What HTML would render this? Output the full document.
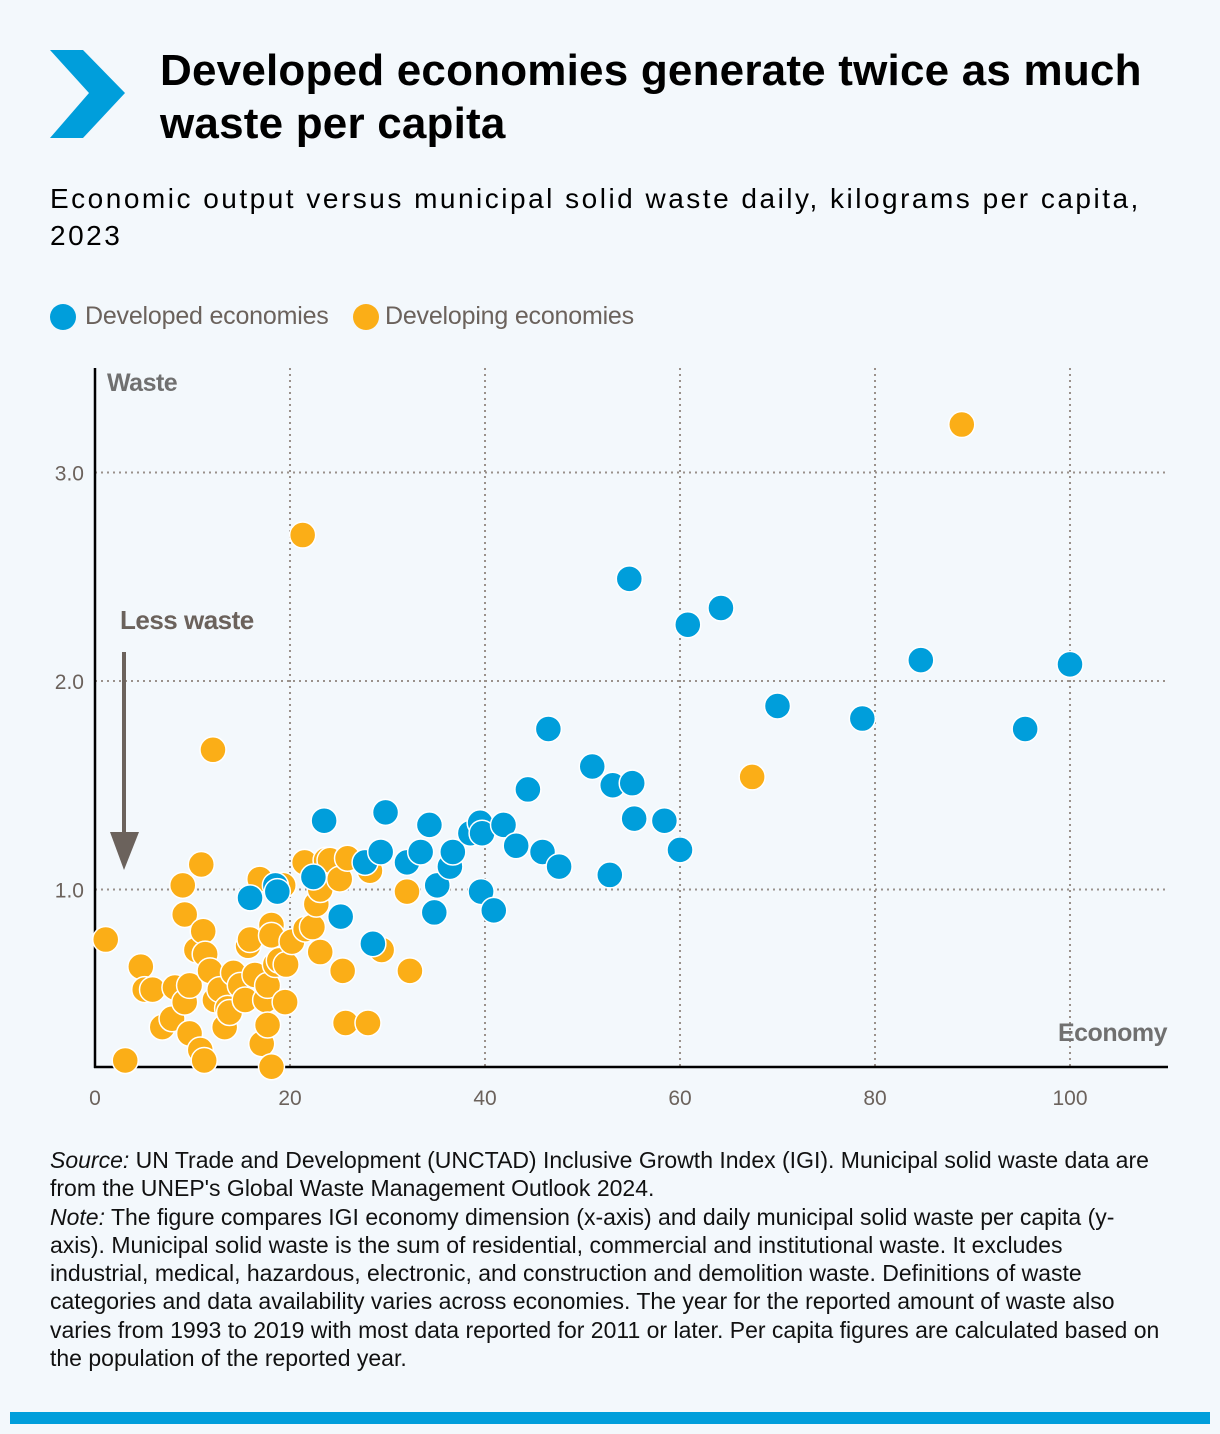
<!DOCTYPE html>
<html><head><meta charset="utf-8">
<style>
body{margin:0;background:#f3f8fc;width:1220px;height:1434px;position:relative;overflow:hidden;font-family:"Liberation Sans",sans-serif}
.t{position:absolute}
#title{left:160px;top:44px;font-size:44px;font-weight:bold;line-height:53px;color:#000;letter-spacing:0.2px;white-space:nowrap}
#sub{left:50px;top:180px;font-size:28px;line-height:37px;color:#000;letter-spacing:2.5px;white-space:nowrap}
#foot{left:50px;top:1146px;font-size:23px;line-height:28.3px;color:#111;width:1116px}
.leg{font-size:25px;color:#6b625c;letter-spacing:-0.2px;white-space:nowrap}
</style></head><body>
<svg class="t" style="left:0;top:0" width="150" height="150"><polygon points="50,50 83,50 125,93 83,138 50,138 89,93" fill="#009edb"/></svg>
<div id="title" class="t">Developed economies generate twice as much<br>waste per capita</div>
<div id="sub" class="t">Economic output versus municipal solid waste daily, kilograms per capita,<br>2023</div>
<div class="t" style="left:50px;top:300px;width:620px;height:36px">
 <div class="t" style="left:0;top:4px;width:26px;height:26px;border-radius:50%;background:#009edb"></div>
 <div class="t leg" style="left:35px;top:2px">Developed economies</div>
 <div class="t" style="left:303px;top:4px;width:26px;height:26px;border-radius:50%;background:#fbae17"></div>
 <div class="t leg" style="left:335px;top:2px">Developing economies</div>
</div>
<svg class="t" id="chart" style="left:0;top:0" width="1220" height="1140"></svg>
<div id="foot" class="t"><i>Source:</i> UN Trade and Development (UNCTAD) Inclusive Growth Index (IGI). Municipal solid waste data are from the UNEP's Global Waste Management Outlook 2024.<br><i>Note:</i> The figure compares IGI economy dimension (x-axis) and daily municipal solid waste per capita (y-axis). Municipal solid waste is the sum of residential, commercial and institutional waste. It excludes industrial, medical, hazardous, electronic, and construction and demolition waste. Definitions of waste categories and data availability varies across economies. The year for the reported amount of waste also varies from 1993 to 2019 with most data reported for 2011 or later. Per capita figures are calculated based on the population of the reported year.</div>
<div class="t" style="left:10px;top:1412px;width:1200px;height:12px;background:#009edb"></div>
<script>
const xTicks=[0,20,40,60,80,100];
const yTicks=[1.0,2.0,3.0];
const devX=[15.9,18.5,18.7,22.4,23.5,25.2,27.7,28.5,29.3,29.8,32.0,33.4,34.3,34.8,35.1,36.4,36.7,38.5,39.5,39.6,39.7,40.9,41.9,43.2,44.4,45.9,46.5,47.6,51.0,52.8,53.1,54.8,55.1,55.3,58.4,60.0,60.8,64.2,70.0,78.7,84.7,95.4,100];
const devY=[0.96,1.02,0.99,1.06,1.33,0.87,1.13,0.74,1.18,1.37,1.13,1.18,1.31,0.89,1.02,1.11,1.18,1.27,1.32,0.99,1.27,0.90,1.31,1.21,1.48,1.18,1.77,1.11,1.59,1.07,1.50,2.49,1.51,1.34,1.33,1.19,2.27,2.35,1.88,1.82,2.10,1.77,2.08];
const dvgX=[1.1,3.1,4.7,5.1,5.9,6.9,7.9,8.2,9.0,9.2,9.2,9.7,9.7,10.4,10.8,10.9,11.1,11.2,11.3,11.8,12.1,12.3,12.8,13.3,13.6,13.8,14.2,14.9,15.4,15.7,15.9,16.4,16.9,17.1,17.5,17.7,17.7,18.1,18.1,18.1,18.5,18.9,19.3,19.5,19.6,20.2,21.3,21.5,21.6,22.3,22.7,23.1,23.1,23.7,24.1,25.1,25.4,25.7,25.9,28.0,28.2,29.4,32.0,32.3,67.4,88.9];
const dvgY=[0.76,0.18,0.63,0.52,0.52,0.34,0.38,0.53,1.02,0.88,0.46,0.54,0.31,0.71,0.23,1.12,0.80,0.18,0.69,0.61,1.67,0.47,0.52,0.34,0.43,0.41,0.60,0.54,0.47,0.73,0.76,0.59,1.05,0.26,0.47,0.35,0.54,0.83,0.15,0.78,0.64,0.66,1.02,0.46,0.64,0.75,2.70,1.13,0.81,0.82,0.93,0.70,1.00,1.14,1.14,1.05,0.61,0.36,1.15,0.36,1.09,0.71,0.99,0.61,1.54,3.23];
const NS='http://www.w3.org/2000/svg';
const svg=document.getElementById('chart');
const sx=v=>95+v*9.75;
const sy=v=>1098-v*208.5;
function mk(tag,attrs,parent){const e=document.createElementNS(NS,tag);for(const k in attrs)e.setAttribute(k,attrs[k]);(parent||svg).appendChild(e);return e;}
xTicks.forEach(t=>{
  if(t>0){const g=mk('line',{x1:sx(t),x2:sx(t),y1:368,y2:1067,stroke:'#9a918b','stroke-width':2,'stroke-dasharray':'2 4'});
  
  }
  const l=mk('text',{x:sx(t),y:1105,'text-anchor':'middle','font-size':21,fill:'#6b625c','font-family':'Liberation Sans, sans-serif'});
  l.textContent=t;
  
  
});
yTicks.forEach(t=>{
  const g=mk('line',{x1:95,x2:1168,y1:sy(t),y2:sy(t),stroke:'#9a918b','stroke-width':2,'stroke-dasharray':'2 4'});
  
  
  const l=mk('text',{x:84,y:sy(t)+8,'text-anchor':'end','font-size':21,fill:'#6b625c','font-family':'Liberation Sans, sans-serif'});
  l.textContent=t.toFixed(1);
  
  
});
const ya=mk('line',{x1:95,x2:95,y1:368,y2:1068,stroke:'#000','stroke-width':2.5});


const xa=mk('line',{x1:94,x2:1168,y1:1067,y2:1067,stroke:'#000','stroke-width':2.5});


const wt=mk('text',{x:107,y:391,'font-size':25,'font-weight':'bold',fill:'#707070','font-family':'Liberation Sans, sans-serif','letter-spacing':-0.5});
wt.textContent='Waste';


const et=mk('text',{x:1167,y:1041,'text-anchor':'end','font-size':25,'font-weight':'bold',fill:'#707070','font-family':'Liberation Sans, sans-serif','letter-spacing':-0.5});
et.textContent='Economy';


const lw=mk('text',{x:120,y:629,'font-size':26,'font-weight':'bold',fill:'#6b625c','font-family':'Liberation Sans, sans-serif','letter-spacing':-0.5});
lw.textContent='Less waste';


const ar=mk('line',{x1:124,x2:124,y1:652,y2:835,stroke:'#6b625c','stroke-width':4});


const ah=mk('polygon',{points:'110,832 139,832 124,870',fill:'#6b625c'});


dvgX.forEach((v,i)=>{
  const c=mk('circle',{cx:sx(v),cy:sy(dvgY[i]),r:13,fill:'#fbae17',stroke:'#fff','stroke-width':1.5});
  
  
});
devX.forEach((v,i)=>{
  const c=mk('circle',{cx:sx(v),cy:sy(devY[i]),r:13,fill:'#009edb',stroke:'#fff','stroke-width':1.5});
  
  
});
</script>
</body></html>
